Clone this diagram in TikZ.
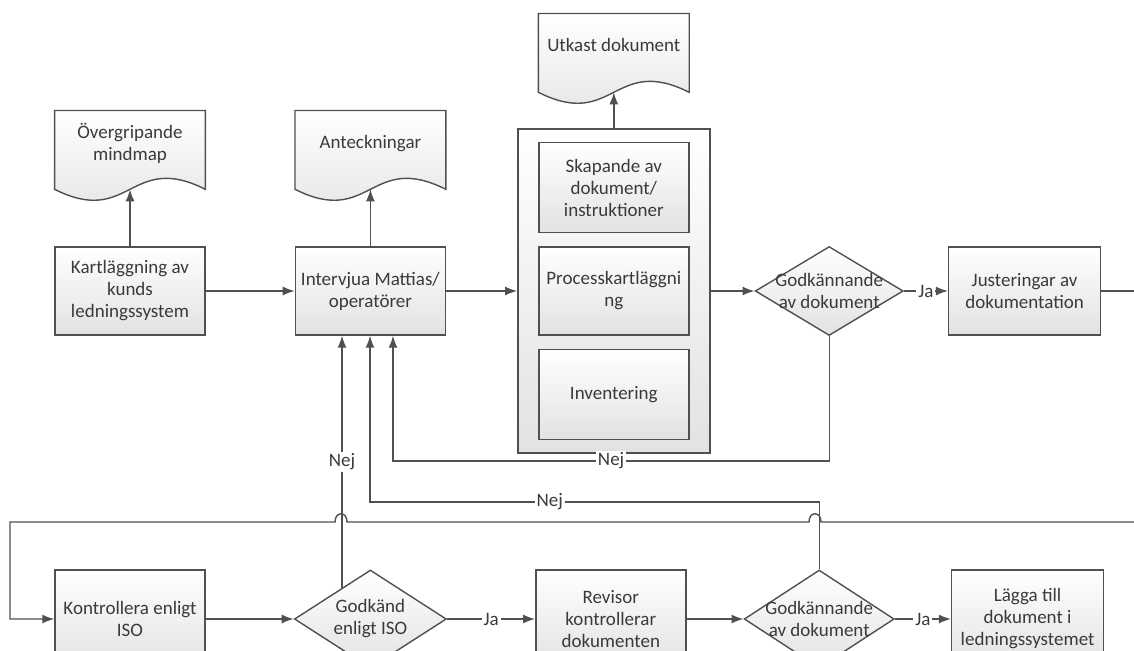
\documentclass[tikz,border=0pt]{standalone}
\usepackage{fontspec}
\setmainfont{Carlito}
\usetikzlibrary{arrows.meta,positioning,shapes.geometric,calc}

\definecolor{linec}{HTML}{505050}
\definecolor{textc}{HTML}{3A3A3A}
\definecolor{boxbot}{HTML}{E2E2E2}

\pgfdeclarelayer{background}
\pgfsetlayers{background,main}

% wavy document outline behind a named node
\newcommand{\docwave}[1]{%
  \begin{pgfonlayer}{background}
    \path[doc] (#1.north west) -- (#1.north east) -- (#1.south east)
      .. controls ($(#1.south)+(0,19pt)$) and ($(#1.south)+(0,-19pt)$) .. (#1.south west) -- cycle;
  \end{pgfonlayer}}

\begin{document}
\begin{tikzpicture}[
  x=0.5pt, y=-0.5pt,
  font=\fontsize{9.5}{11}\selectfont, text=textc,
  box/.style={draw=linec,line width=0.7pt,top color=white,bottom color=boxbot,align=center,minimum width=75pt,minimum height=44pt,inner sep=2pt},
  doc/.style={draw=linec,line width=0.7pt,top color=white,bottom color=boxbot},
  docbox/.style={align=center,minimum width=75pt,minimum height=39pt,text depth=8pt},
  decision/.style={diamond,draw=linec,line width=0.7pt,top color=white,bottom color=boxbot,minimum width=74pt,minimum height=44.5pt,inner sep=0pt},
  arrow/.style={-{Latex[length=6pt,width=4.5pt]},draw=linec,line width=0.7pt},
  line/.style={draw=linec,line width=0.7pt},
  tag/.style={fill=white,inner sep=1pt}
]
  \useasboundingbox (0,0) rectangle (1134,650);
  \clip (0,0) rectangle (1134,650);

  % upper row
  \node[box] (kart) at (130,291) {Kartläggning av\\kunds\\ledningssystem};
  \node[box,right=44.5pt of kart] (interv) {Intervjua Mattias/\\operatörer};
  \node[box,minimum width=96pt,minimum height=162pt,right=35.5pt of interv] (cont) {};
  \node[box] (proc) at (cont) {Processkartläggni\\ng};
  \node[box,minimum height=45pt,above=6.5pt of proc] (skap) {Skapande av\\dokument/\\instruktioner};
  \node[box,minimum height=45pt,below=6.5pt of proc] (inv) {Inventering};
  \node[decision,right=22pt of cont,label={[align=center]center:Godkännande\\av dokument}] (dia1) {};
  \node[box,minimum width=76pt,right=22pt of dia1] (just) {Justeringar av\\dokumentation};

  % documents
  \node[docbox,above=28.5pt of kart] (mind) {Övergripande\\mindmap};
  \node[docbox,above=28.5pt of interv] (ant) {Anteckningar};
  \node[docbox,above=18pt of cont] (utkast) {Utkast dokument};
  \docwave{mind}
  \docwave{ant}
  \docwave{utkast}

  % lower row
  \node[box,minimum height=49pt] (kontr) at (130,619) {Kontrollera enligt\\ISO};
  \node[decision,minimum width=76pt,minimum height=49pt,right=44pt of kontr,label={[align=center]center:Godkänd\\enligt ISO}] (godk) {};
  \node[box,minimum height=49pt,right=44pt of godk] (rev) {Revisor\\kontrollerar\\dokumenten};
  \node[decision,minimum width=75pt,minimum height=49pt,right=28.5pt of rev,label={[align=center]center:Godkännande\\av dokument}] (dia2) {};
  \node[box,minimum width=76pt,minimum height=49pt,right=28pt of dia2] (lagga) {Lägga till\\dokument i\\ledningssystemet};

  \coordinate (justout) at (1134,291);
  \coordinate (back1) at (393,461);
  \coordinate (back2) at (370,502);
  \coordinate (loopin) at (1134,522);
  \coordinate (nejfoot) at ($(godk.north)!0.37!(godk.west)$);

  \draw[arrow] (kart.north) -- (mind.south);
  \draw[arrow] (interv.north) -- (ant.south);
  \draw[arrow] (cont.north) -- (utkast.south);
  \draw[arrow] (kart) -- (interv);
  \draw[arrow] (interv) -- (cont);
  \draw[arrow] (cont) -- (dia1);
  \draw[arrow] (dia1) -- node[tag]{Ja} (just);
  \draw[line] (just) -- (justout);
  \draw[arrow] (dia1.south) |- node[tag,pos=0.75]{Nej} (back1) -- (back1 |- interv.south);
  \draw[arrow] (nejfoot) -- node[tag]{Nej} (nejfoot |- interv.south);
  \draw[arrow] (dia2.north) |- node[tag,pos=0.8]{Nej} (back2) -- (back2 |- interv.south);
  \draw[arrow] (loopin) -- (821,522) .. controls (821,511) and (809,511) .. (809,522)
    -- (347,522) .. controls (347,511) and (335,511) .. (335,522) -- (10,522) |- (kontr);
  \draw[arrow] (kontr) -- (godk);
  \draw[arrow] (godk) -- node[tag]{Ja} (rev);
  \draw[arrow] (rev) -- (dia2);
  \draw[arrow] (dia2) -- node[tag]{Ja} (lagga);
\end{tikzpicture}
\end{document}
